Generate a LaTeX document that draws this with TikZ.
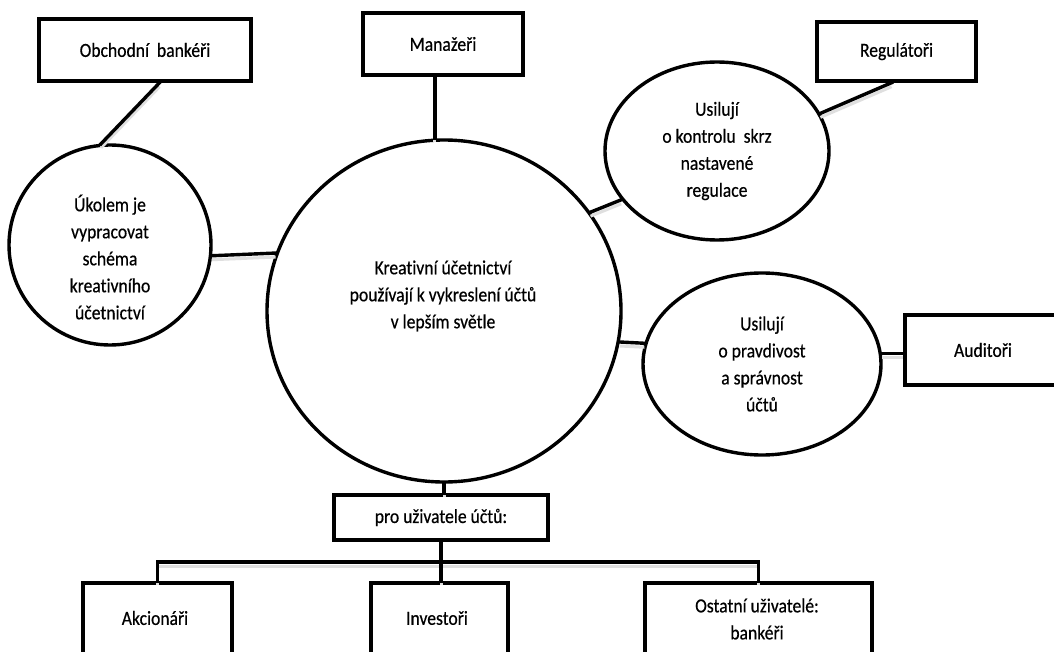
\documentclass[tikz,border=0pt]{standalone}
\usepackage{fontspec}
\setmainfont{Carlito}[FakeStretch=0.88, FakeBold=0.5, Ligatures={NoCommon}]
\usetikzlibrary{shapes.geometric}
\newcommand\dgfont{\fontsize{20}{27}\selectfont}
\tikzset{
  box/.style={draw, rectangle, line width=3.4pt, inner sep=0pt, font=\dgfont, align=center},
  oval/.style={draw, ellipse, line width=3.4pt, inner sep=0pt, font=\dgfont, align=center},
  txt/.style={inner sep=0pt, font=\dgfont, align=center},
  link/.style={line width=3.4pt, line cap=rect,
    preaction={draw, gray!25, line width=3pt, transform canvas={yshift=-4pt}}},
}
\begin{document}
\begin{tikzpicture}[x=1pt, y=-1pt]
\useasboundingbox (0,0) rectangle (1054,652);
\clip (0,0) rectangle (1054,652);
\fill[white] (0,0) rectangle (1054,652);

% central circle
\node[oval, minimum width=354pt, minimum height=342pt] (core) at (444,311) {};
\node[txt] (coreT) at (443,296) {Kreativní účetnictví\\používají k vykreslení účtů\\v lepším světle};

% left branch
\node[box, minimum width=212pt, minimum height=62pt] (ob) at (145,50) {Obchodní\ \ bankéři};
\node[oval, minimum width=202pt, minimum height=200pt] (lc) at (110,245) {};
\node[txt] (lcT) at (110,257) {Úkolem je\\vypracovat\\schéma\\kreativního\\účetnictví};

% top branch
\node[box, minimum width=160pt, minimum height=62pt] (man) at (443,44) {Manažeři};

% upper right branch
\node[oval, minimum width=224pt, minimum height=178pt] (reg) at (717,151) {Usilují\\o kontrolu\ \ skrz\\nastavené\\regulace};
\node[box, minimum width=159pt, minimum height=59pt] (regbox) at (896.5,51.5) {Regulátoři};

% right branch
\node[oval, minimum width=238pt, minimum height=182pt] (aud) at (762,364) {Usilují\\o pravdivost\\a správnost\\účtů};
\node[box, minimum width=156pt, minimum height=70pt] (audbox) at (983,350) {Auditoři};

% users
\node[box, minimum width=214pt, minimum height=45pt] (pro) at (441,517.5) {pro uživatele účtů:};
\node[box, minimum width=149pt, minimum height=120pt] (akc) at (157.5,643) {};
\node[txt] (akcT) at (155,618) {Akcionáři};
\node[box, minimum width=137pt, minimum height=120pt] (inv) at (439.5,643) {};
\node[txt] (invT) at (437,618) {Investoři};
\node[box, minimum width=227pt, minimum height=120pt] (ost) at (758.5,643) {};
\node[txt] (ostT) at (757,619) {Ostatní uživatelé:\\bankéři};

% connectors
\draw[link] (ob.-66) -- (lc.95);
\draw[link] (lc.-6) -- (core.161);
\draw[link] (man.-104) -- (man.-104 |- core.north);
\draw[link] (core.34) -- (reg.207);
\draw[link] (reg.20) -- (regbox.-99);
\draw[link] (core.-10) -- (aud.170);
\draw[link] (aud.5) -- (aud.5 -| audbox.west);
\draw[link] (core.south) -- (core.south |- pro.north);
\coordinate (busY) at (0,562);
\draw[link] (akc.north) -- (akc.north |- busY) -- (ost.north |- busY) -- (ost.north);
\draw[link] (pro.south) -- (pro.south |- inv.north);
\end{tikzpicture}
\end{document}
